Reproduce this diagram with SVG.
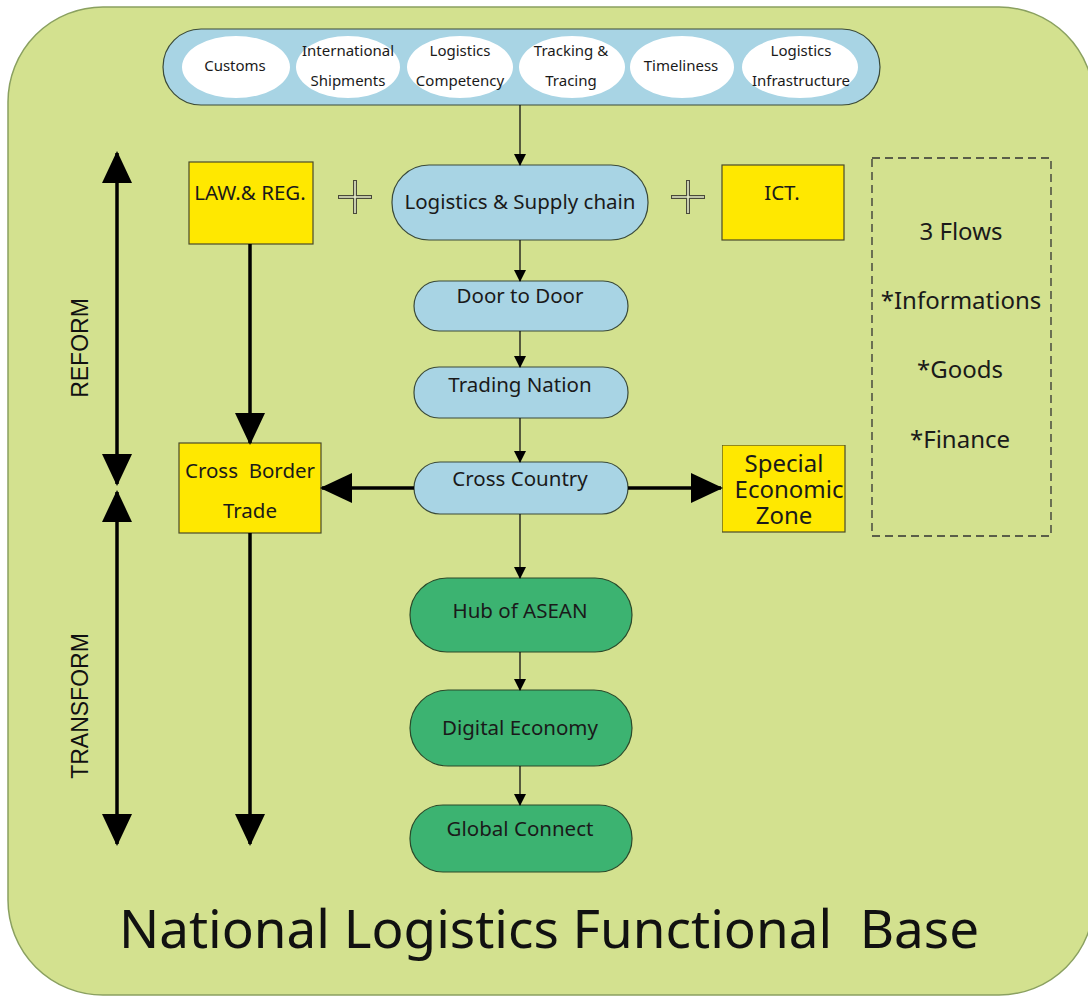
<svg xmlns="http://www.w3.org/2000/svg" width="1088" height="999" viewBox="0 0 1088 999">
<style>
.t{font-family:"Noto Sans","DejaVu Sans",sans-serif;fill:#1a1a1a;text-anchor:middle;white-space:pre}
.s{font-size:15px}
.m{font-size:20.5px}
.f{font-size:24px}
.blue{fill:#a8d4e4;stroke:#3a4a3a;stroke-width:1.2}
.green{fill:#3cb371;stroke:#2a4a2a;stroke-width:1.2}
.yel{fill:#ffe800;stroke:#4a4a2a;stroke-width:1.2}
.wh{fill:#ffffff;stroke:none}
.thin{stroke:#111;stroke-width:1.3;fill:none}
.thick{stroke:#000;stroke-width:3.5;fill:none}
.side{font-family:"Liberation Sans",Arial,sans-serif;font-size:23px;fill:#111;text-anchor:middle}
</style>
<defs>
<marker id="sm" markerWidth="12" markerHeight="14" refX="11" refY="6" orient="auto" markerUnits="userSpaceOnUse" viewBox="0 0 12 12">
<path d="M0,0 L12,6 L0,12 z" fill="#000"/>
</marker>
<marker id="bg" markerWidth="32" markerHeight="30" refX="30" refY="15" orient="auto" markerUnits="userSpaceOnUse" viewBox="0 0 32 30">
<path d="M0,0 L32,15 L0,30 z" fill="#000"/>
</marker>
<marker id="bgs" markerWidth="32" markerHeight="30" refX="2" refY="15" orient="auto" markerUnits="userSpaceOnUse" viewBox="0 0 32 30">
<path d="M32,0 L0,15 L32,30 z" fill="#000"/>
</marker>
</defs>
<rect x="0" y="0" width="1088" height="999" fill="#ffffff"/>
<rect x="8" y="7" width="1086" height="988" rx="95" fill="#d3e18f" stroke="#8aa060" stroke-width="1.5"/>

<g id="band">
<rect x="163" y="29" width="717" height="76" rx="38" class="blue"/>
<ellipse cx="236" cy="67" rx="54" ry="31" class="wh"/>
<ellipse cx="348" cy="67" rx="52" ry="31" class="wh"/>
<ellipse cx="460" cy="67" rx="53" ry="31" class="wh"/>
<ellipse cx="572" cy="67" rx="53" ry="31" class="wh"/>
<ellipse cx="682" cy="67" rx="52" ry="31" class="wh"/>
<ellipse cx="800" cy="67" rx="58" ry="31" class="wh"/>
<text class="t s" x="235" y="71">Customs</text>
<text class="t s" x="348" y="56">International</text>
<text class="t s" x="348" y="86">Shipments</text>
<text class="t s" x="460" y="56">Logistics</text>
<text class="t s" x="460" y="86">Competency</text>
<text class="t s" x="571" y="56">Tracking &amp;</text>
<text class="t s" x="571" y="86">Tracing</text>
<text class="t s" x="681" y="71">Timeliness</text>
<text class="t s" x="801" y="56">Logistics</text>
<text class="t s" x="801" y="86">Infrastructure</text>
</g>

<g id="supply">
<rect x="392" y="165" width="256" height="75" rx="37" class="blue"/>
<text class="t m" x="520" y="209">Logistics &amp; Supply chain</text>
</g>
<g id="law">
<rect x="189" y="162" width="124" height="82" class="yel"/>
<text class="t m" x="250" y="200">LAW.&amp; REG.</text>
</g>
<g id="ict">
<rect x="722" y="165" width="122" height="75" class="yel"/>
<text class="t m" x="782" y="200">ICT.</text>
</g>
<g id="plus1">
<path d="M338,197 H372 M355,180 V214" stroke="#4a4a3a" stroke-width="4" fill="none"/>
<path d="M339,197 H371 M355,181 V213" stroke="#e8eecc" stroke-width="1.6" fill="none"/>
</g>
<g id="plus2">
<path d="M671,197 H705 M688,180 V214" stroke="#4a4a3a" stroke-width="4" fill="none"/>
<path d="M672,197 H704 M688,181 V213" stroke="#e8eecc" stroke-width="1.6" fill="none"/>
</g>
<g id="door">
<rect x="414" y="281" width="214" height="50" rx="25" class="blue"/>
<text class="t m" x="520" y="303">Door to Door</text>
</g>
<g id="trading">
<rect x="414" y="367" width="214" height="51" rx="25" class="blue"/>
<text class="t m" x="520" y="392">Trading Nation</text>
</g>
<g id="crosscountry">
<rect x="414" y="462" width="214" height="52" rx="26" class="blue"/>
<text class="t m" x="520" y="486">Cross Country</text>
</g>
<g id="crossborder">
<rect x="179" y="443" width="142" height="90" class="yel"/>
<text class="t m" x="250" y="478" xml:space="preserve">Cross  Border</text>
<text class="t m" x="250" y="518">Trade</text>
</g>
<g id="sez">
<svg x="722" y="445" width="124" height="88" overflow="hidden">
<rect x="0" y="0" width="123" height="87" class="yel"/>
<text class="t" style="font-size:24px" x="62" y="27">Special</text>
<text class="t" style="font-size:24px" x="67" y="53">Economic</text>
<text class="t" style="font-size:24px" x="62" y="79">Zone</text>
</svg>
</g>
<g id="hub">
<rect x="410" y="578" width="222" height="74" rx="37" class="green"/>
<text class="t m" x="520" y="618">Hub of ASEAN</text>
</g>
<g id="digital">
<rect x="410" y="690" width="222" height="76" rx="38" class="green"/>
<text class="t m" x="520" y="735">Digital Economy</text>
</g>
<g id="global">
<rect x="410" y="805" width="222" height="67" rx="33" class="green"/>
<text class="t m" x="520" y="836">Global Connect</text>
</g>
<g id="flows">
<rect x="872" y="158" width="179" height="378" fill="none" stroke="#333" stroke-width="1.3" stroke-dasharray="8,5"/>
<text class="t f" x="961" y="240">3 Flows</text>
<text class="t f" x="961" y="309">*Informations</text>
<text class="t f" x="960" y="378">*Goods</text>
<text class="t f" x="960" y="448">*Finance</text>
</g>
<g id="labels">
<text class="side" transform="translate(88,348) rotate(-90)">REFORM</text>
<text class="side" transform="translate(88,706) rotate(-90)">TRANSFORM</text>
<text x="549" y="948" xml:space="preserve" style="font-family:'Noto Sans','DejaVu Sans',sans-serif;font-size:53px;fill:#111;text-anchor:middle;white-space:pre">National Logistics Functional  Base</text>
</g>
<g id="connectors">
<line class="thin" x1="520" y1="105" x2="520" y2="165" marker-end="url(#sm)"/>
<line class="thin" x1="520" y1="240" x2="520" y2="281" marker-end="url(#sm)"/>
<line class="thin" x1="520" y1="331" x2="520" y2="367" marker-end="url(#sm)"/>
<line class="thin" x1="520" y1="418" x2="520" y2="462" marker-end="url(#sm)"/>
<line class="thin" x1="520" y1="514" x2="520" y2="578" marker-end="url(#sm)"/>
<line class="thin" x1="520" y1="652" x2="520" y2="690" marker-end="url(#sm)"/>
<line class="thin" x1="520" y1="766" x2="520" y2="805" marker-end="url(#sm)"/>
<line class="thick" x1="250" y1="244" x2="250" y2="443" marker-end="url(#bg)"/>
<line class="thick" x1="250" y1="533" x2="250" y2="844" marker-end="url(#bg)"/>
<line class="thick" x1="414" y1="488" x2="322" y2="488" marker-end="url(#bg)"/>
<line class="thick" x1="628" y1="488" x2="721" y2="488" marker-end="url(#bg)"/>
<line class="thick" x1="117" y1="153" x2="117" y2="484" marker-start="url(#bgs)" marker-end="url(#bg)"/>
<line class="thick" x1="117" y1="492" x2="117" y2="844" marker-start="url(#bgs)" marker-end="url(#bg)"/>
</g>
</svg>
